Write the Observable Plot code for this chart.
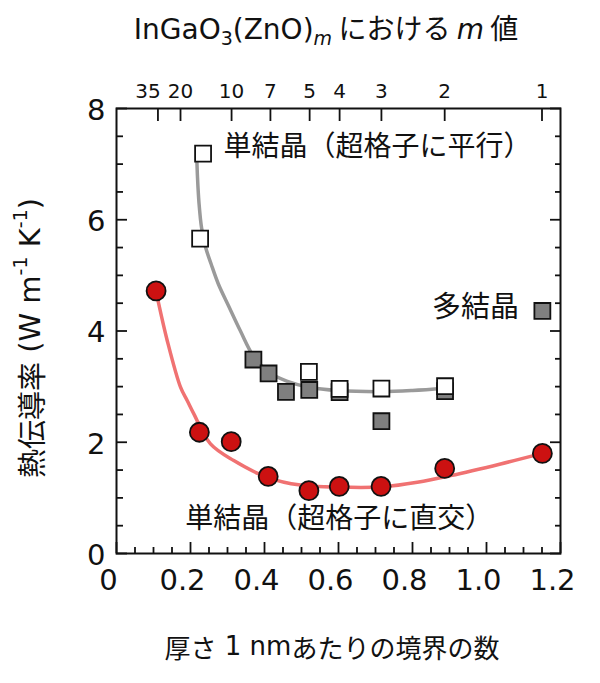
<!DOCTYPE html>
<html><head><meta charset="utf-8">
<script src="https://cdn.jsdelivr.net/npm/d3@7"></script>
<script src="https://cdn.jsdelivr.net/npm/@observablehq/plot@0.6"></script>
<style>
body{margin:0;background:#fff;}
#chart{width:600px;height:683px;}
</style></head><body>
<div id="chart"></div>
<script>
// ---- data ----
const xMajor = [0, 0.2, 0.4, 0.6, 0.8, 1.0, 1.2];
const xTickLabels = ["0", "0.2", "0.4", "0.6", "0.8", "1.0", "1.2"];
const xMinor = [0.05, 0.1, 0.15, 0.25, 0.3, 0.35, 0.45, 0.5, 0.55, 0.65, 0.7, 0.75, 0.85, 0.9, 0.95, 1.05, 1.1, 1.15];
const yMajor = [0, 2, 4, 6, 8];
const yTickLabels = ["0", "2", "4", "6", "8"];
const yMinor = [0.5, 1, 1.5, 2.5, 3, 3.5, 4.5, 5, 5.5, 6.5, 7, 7.5];
const mValues = [35, 20, 10, 7, 5, 4, 3, 2, 1];
const mPos = [0.112, 0.173, 0.311, 0.416, 0.522, 0.603, 0.716, 0.887, 1.150];

// single crystal, perpendicular to superlattice (red circles)
const perpX = [0.107, 0.224, 0.310, 0.410, 0.520, 0.602, 0.715, 0.887, 1.151];
const perpY = [4.72, 2.18, 2.01, 1.385, 1.13, 1.205, 1.205, 1.53, 1.80];
// single crystal, parallel to superlattice (open squares)
const parX = [0.234, 0.226, 0.520, 0.603, 0.716, 0.888];
const parY = [7.19, 5.66, 3.265, 2.96, 2.966, 3.007];
// polycrystal (gray squares)
const polyX = [0.370, 0.411, 0.458, 0.521, 0.603, 0.716, 0.888, 1.151];
const polyY = [3.487, 3.236, 2.905, 2.94, 2.90, 2.378, 2.92, 4.36];
// guide curves
const parCurveX = [0.217, 0.219, 0.223, 0.230, 0.241, 0.256, 0.275, 0.303, 0.335, 0.370, 0.411, 0.46, 0.52, 0.60, 0.716, 0.80, 0.888];
const parCurveY = [7.12, 6.75, 6.30, 5.85, 5.50, 5.20, 4.85, 4.45, 4.00, 3.55, 3.26, 3.10, 2.99, 2.93, 2.91, 2.93, 2.97];
const perpCurveX = [0.107, 0.114, 0.137, 0.173, 0.191, 0.209, 0.254, 0.317, 0.407, 0.497, 0.632, 0.722, 0.813, 0.903, 1.038, 1.151];
const perpCurveY = [4.72, 4.49, 3.83, 2.99, 2.75, 2.51, 1.97, 1.67, 1.37, 1.23, 1.19, 1.20, 1.28, 1.40, 1.61, 1.80];

const labelPar = "単結晶（超格子に平行）";
const labelPerp = "単結晶（超格子に直交）";
const labelPoly = "多結晶";

// ---- build ----
const zip = (xs, ys) => xs.map((x, i) => ({x, y: ys[i]}));
const topTicks = mValues.map((m, i) => ({m, x: mPos[i]}));
const jp = "Noto Sans CJK JP";
const lat = "DejaVu Sans";
const ink = "#111";

const chart = Plot.plot({
  width: 600, height: 683,
  marginTop: 108, marginLeft: 116, marginRight: 40, marginBottom: 130,
  x: {domain: [0, 1.2]},
  y: {domain: [0, 8]},
  style: {fontFamily: lat, background: "white", color: ink},
  marks: [
    Plot.line(zip(parCurveX, parCurveY), {x: "x", y: "y", stroke: "#9a9a9a", strokeWidth: 3.5, curve: "catmull-rom"}),
    Plot.line(zip(perpCurveX, perpCurveY), {x: "x", y: "y", stroke: "#f07272", strokeWidth: 3.5, curve: "catmull-rom"}),
    Plot.dot(zip(polyX, polyY), {x: "x", y: "y", symbol: "square", r: 9, fill: "#7f7f7f", stroke: ink, strokeWidth: 1.8}),
    Plot.dot(zip(parX, parY), {x: "x", y: "y", symbol: "square", r: 9, fill: "white", stroke: ink, strokeWidth: 1.8}),
    Plot.dot(zip(perpX, perpY), {x: "x", y: "y", r: 9.5, fill: "#cc1111", stroke: ink, strokeWidth: 1.8}),
    Plot.frame({stroke: ink, strokeWidth: 2}),
    // inward ticks
    Plot.axisX({anchor: "bottom", ticks: xMajor, tickSize: -11, tickFormat: () => "", label: null, strokeWidth: 1.8}),
    Plot.axisX({anchor: "bottom", ticks: xMinor, tickSize: -6, tickFormat: () => "", label: null, strokeWidth: 1.8}),
    Plot.axisX({anchor: "top", ticks: mPos, tickSize: -12, tickFormat: () => "", label: null, strokeWidth: 1.8}),
    Plot.axisY({anchor: "left", ticks: yMajor, tickSize: -11, tickFormat: () => "", label: null, strokeWidth: 1.8}),
    Plot.axisY({anchor: "left", ticks: yMinor, tickSize: -7, tickFormat: () => "", label: null, strokeWidth: 1.8}),
    Plot.axisY({anchor: "right", ticks: yMajor, tickSize: -11, tickFormat: () => "", label: null, strokeWidth: 1.8}),
    Plot.axisY({anchor: "right", ticks: yMinor, tickSize: -6, tickFormat: () => "", label: null, strokeWidth: 1.8}),
    // tick labels
    Plot.text(xMajor, {x: d => d, frameAnchor: "bottom", text: (d, i) => xTickLabels[i], dy: 27, dx: -8, lineAnchor: "middle", fontSize: 29, fill: ink}),
    Plot.text(yMajor, {y: d => d, frameAnchor: "left", text: (d, i) => yTickLabels[i], textAnchor: "end", dx: -11, dy: 2, lineAnchor: "middle", fontSize: 29, fill: ink}),
    Plot.text(topTicks.filter(d => d.m !== 35), {x: "x", frameAnchor: "top", text: d => String(d.m), dy: -17, lineAnchor: "middle", fontSize: 20, fill: ink}),
    Plot.text(topTicks.filter(d => d.m === 35), {x: "x", frameAnchor: "top", text: d => String(d.m), dy: -17, dx: -10, lineAnchor: "middle", fontSize: 20, fill: ink}),
    // annotations
    Plot.text([labelPar], {x: 0.289, y: 7.30, text: d => d, textAnchor: "start", lineAnchor: "middle", fontSize: 28, fontFamily: jp, fill: ink}),
    Plot.text([labelPoly], {x: 1.088, y: 4.41, text: d => d, textAnchor: "end", lineAnchor: "middle", fontSize: 29, fontFamily: jp, fill: ink}),
    Plot.text([labelPerp], {x: 0.186, y: 0.62, text: d => d, textAnchor: "start", lineAnchor: "middle", fontSize: 28, fontFamily: jp, fill: ink})
  ]
});
document.getElementById("chart").append(chart);

// axis titles (real text with sub/superscripts)
const svg = d3.select(chart);
const g = svg.append("g").attr("fill", ink).attr("font-family", `${lat}, ${jp}`);

const title = g.append("text").attr("x", 326).attr("y", 39).attr("text-anchor", "middle").attr("font-size", 28);
title.append("tspan").text("InGaO");
title.append("tspan").attr("font-size", 19).attr("dy", 6).text("3");
title.append("tspan").attr("dy", -6).text("(ZnO)");
title.append("tspan").attr("font-size", 19).attr("dy", 6).attr("font-style", "italic").text("m");
title.append("tspan").attr("dy", -6).attr("font-family", jp).text(" における ");
title.append("tspan").attr("font-style", "italic").text("m");
title.append("tspan").attr("font-family", jp).text(" 値");

const ylab = g.append("text").attr("transform", "translate(30,338) rotate(-90)")
  .attr("text-anchor", "middle").attr("dominant-baseline", "central").attr("font-size", 29);
ylab.append("tspan").attr("font-family", jp).text("熱伝導率");
ylab.append("tspan").text(" (W m");
ylab.append("tspan").attr("font-size", 19).attr("dy", -10).text("-1");
ylab.append("tspan").attr("dy", 10).text(" K");
ylab.append("tspan").attr("font-size", 19).attr("dy", -10).text("-1");
ylab.append("tspan").attr("dy", 10).text(")");

const xlab = g.append("text").attr("x", 332).attr("y", 646).attr("text-anchor", "middle")
  .attr("dominant-baseline", "central").attr("font-size", 26);
xlab.append("tspan").attr("font-family", jp).text("厚さ");
xlab.append("tspan").text(" 1 nm");
xlab.append("tspan").attr("font-family", jp).text("あたりの境界の数");
</script>
</body></html>
